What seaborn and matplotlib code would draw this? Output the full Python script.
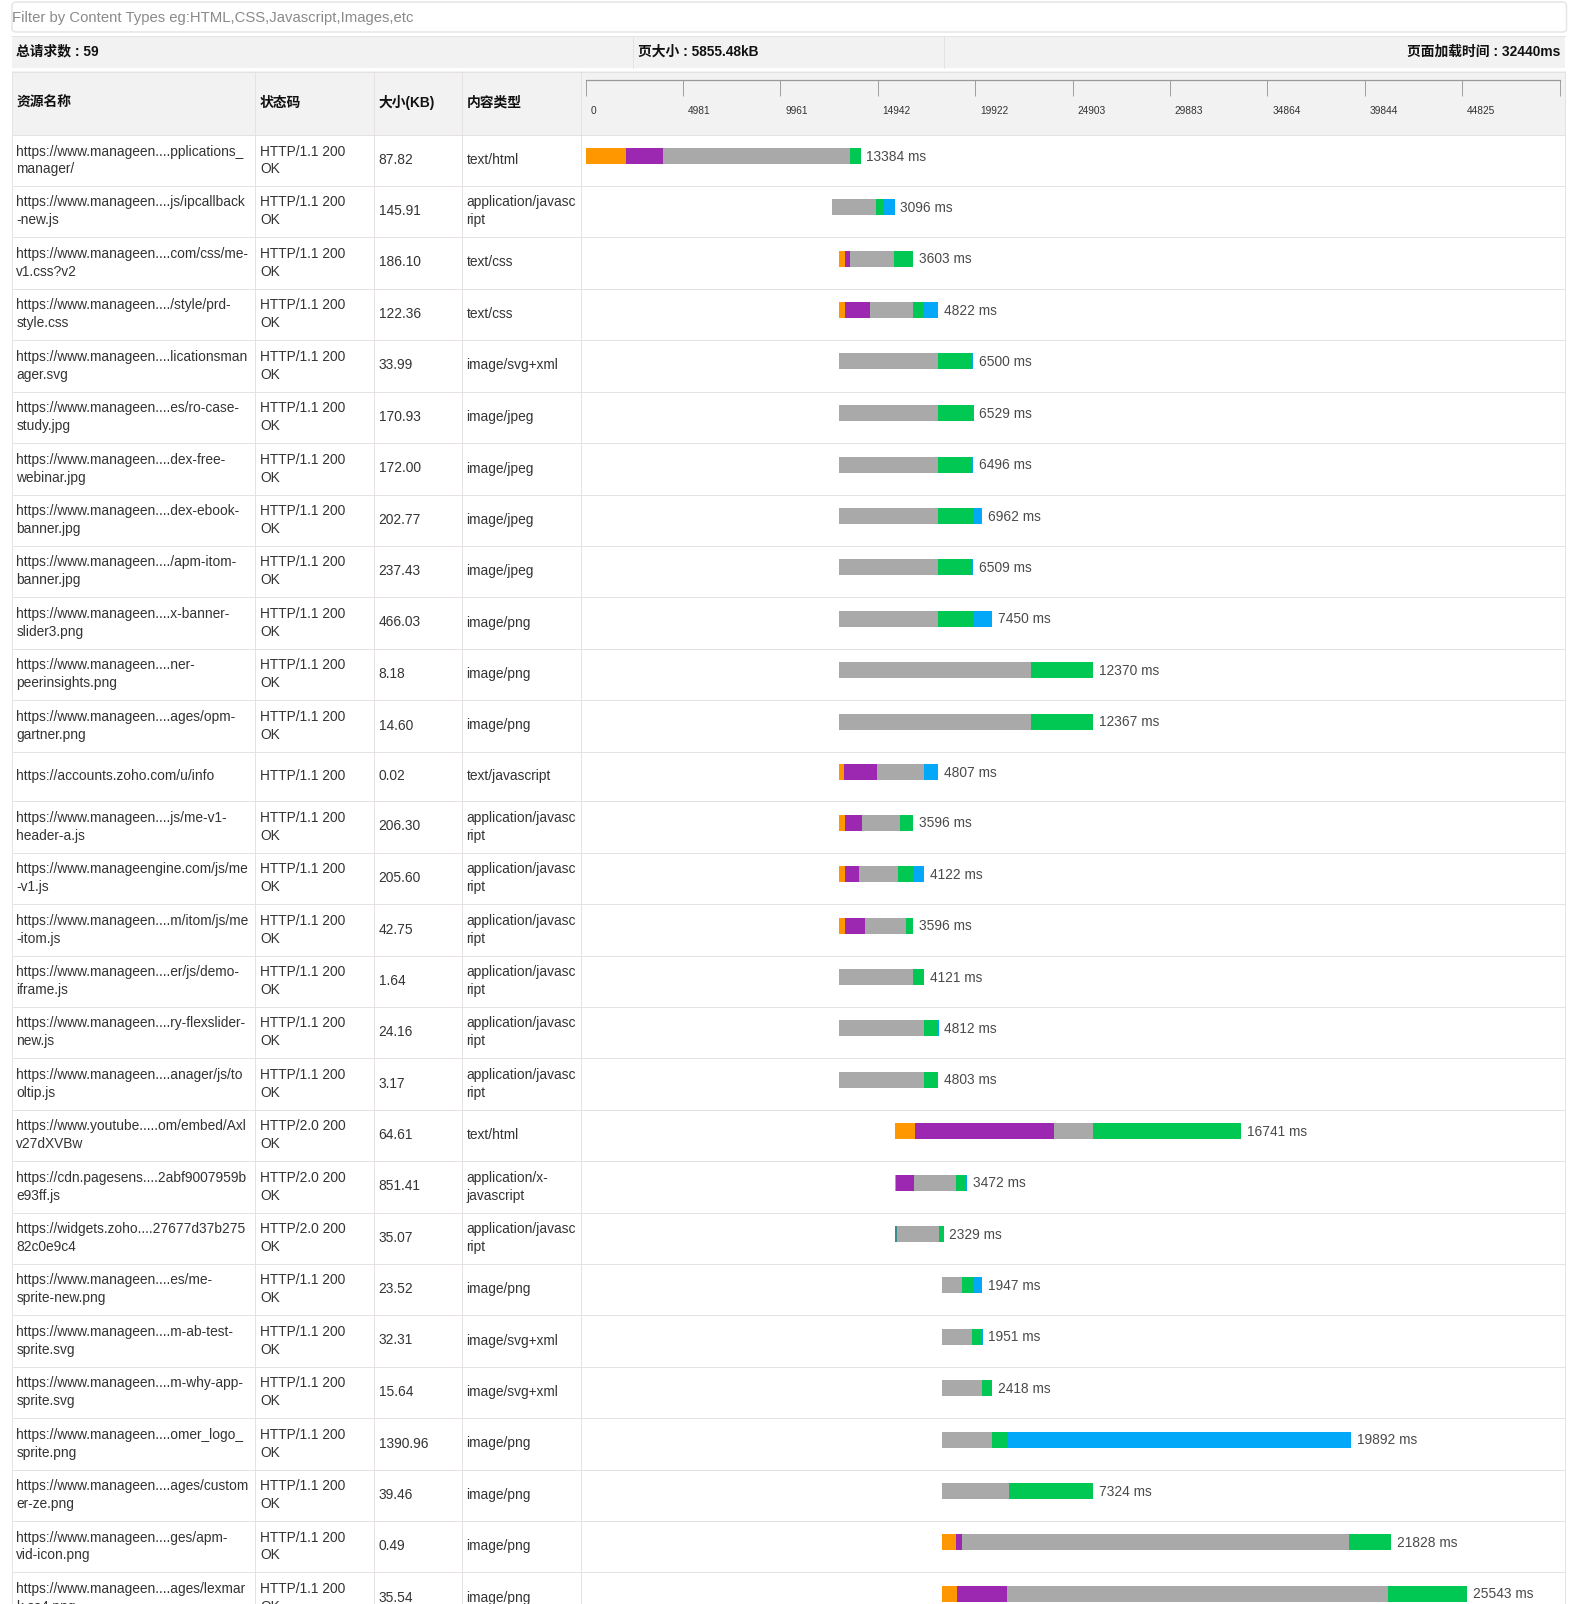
import numpy as np
import pandas as pd
import matplotlib
matplotlib.use("Agg")
import matplotlib.pyplot as plt
from matplotlib.patches import Rectangle, FancyBboxPatch
import seaborn as sns

# ---------- data ----------
U = "https://www.manageen...."
names = [U + "pplications_\nmanager/", U + "js/ipcallback\n-new.js", U + "com/css/me-\nv1.css?v2",
         U + "/style/prd-\nstyle.css", U + "licationsman\nager.svg", U + "es/ro-case-\nstudy.jpg",
         U + "dex-free-\nwebinar.jpg", U + "dex-ebook-\nbanner.jpg", U + "/apm-itom-\nbanner.jpg",
         U + "x-banner-\nslider3.png", U + "ner-\npeerinsights.png", U + "ages/opm-\ngartner.png",
         "https://accounts.zoho.com/u/info", U + "js/me-v1-\nheader-a.js",
         "https://www.manageengine.com/js/me\n-v1.js", U + "m/itom/js/me\n-itom.js",
         U + "er/js/demo-\niframe.js", U + "ry-flexslider-\nnew.js", U + "anager/js/to\noltip.js",
         "https://www.youtube.....om/embed/Axl\nv27dXVBw", "https://cdn.pagesens....2abf9007959b\ne93ff.js",
         "https://widgets.zoho....27677d37b275\n82c0e9c4", U + "es/me-\nsprite-new.png",
         U + "m-ab-test-\nsprite.svg", U + "m-why-app-\nsprite.svg", U + "omer_logo_\nsprite.png",
         U + "ages/custom\ner-ze.png", U + "ges/apm-\nvid-icon.png", U + "ages/lexmar\nk-ss4.png"]
H1 = "HTTP/1.1 200\nOK"
H2 = "HTTP/2.0 200\nOK"
statuses = [H1] * 12 + ["HTTP/1.1 200"] + [H1] * 6 + [H2] * 3 + [H1] * 7
sizes = ["87.82", "145.91", "186.10", "122.36", "33.99", "170.93", "172.00", "202.77", "237.43", "466.03",
         "8.18", "14.60", "0.02", "206.30", "205.60", "42.75", "1.64", "24.16", "3.17", "64.61", "851.41",
         "35.07", "23.52", "32.31", "15.64", "1390.96", "39.46", "0.49", "35.54"]
AJ = "application/javasc\nript"
types = ["text/html", AJ, "text/css", "text/css", "image/svg+xml", "image/jpeg", "image/jpeg", "image/jpeg",
         "image/jpeg", "image/png", "image/png", "image/png", "text/javascript", AJ, AJ, AJ, AJ, AJ, AJ,
         "text/html", "application/x-\njavascript", AJ, "image/png", "image/svg+xml", "image/svg+xml",
         "image/png", "image/png", "image/png", "image/png"]
times_label = [13384, 3096, 3603, 4822, 6500, 6529, 6496, 6962, 6509, 7450, 12370, 12367, 4807, 3596, 4122, 3596,
               4121, 4812, 4803, 16741, 3472, 2329, 1947, 1951, 2418, 19892, 7324, 21828, 25543]
start_ms = [0, 11971] + [12360] * 17 + [15085] * 3 + [17372] * 7
orange_ms = [1995, 0, 292, 292, 0, 0, 0, 0, 0, 0, 0, 0, 195, 292, 292, 292, 0, 0, 0, 925, 30, 0, 0, 0, 0, 0, 0, 681, 730]
purple_ms = [1752, 0, 243, 1168, 0, 0, 0, 0, 0, 0, 0, 0, 1654, 827, 681, 925, 0, 0, 0, 6764, 876, 0, 0, 0, 0, 0, 0, 292, 2433]
teal_ms = [0] * 21 + [49] + [0] * 7
gray_ms = [9100, 2141, 2141, 2141, 4817, 4817, 4817, 4817, 4817, 4817, 9343, 9343, 2287, 1849, 1898, 1995, 3601, 4136,
           4136, 1898, 2044, 2044, 973, 1460, 1946, 2418, 3212, 18831, 18539]
green_ms = [535, 341, 925, 535, 1654, 1670, 1654, 1703, 1654, 1703, 3017, 3017, 0, 633, 730, 389, 535, 660, 681, 7202,
            487, 243, 535, 450, 487, 779, 4112, 2044, 3844]
blue_ms = [0, 584, 0, 681, 49, 49, 49, 438, 49, 925, 0, 0, 681, 0, 535, 0, 0, 30, 0, 20, 49, 0, 438, 40, 0, 16691, 0, 0, 0]
ruler_ticks = [0, 4981, 9961, 14942, 19922, 24903, 29883, 34864, 39844, 44825, 49805]
headers = ["资源名称", "状态码", "大小(KB)", "内容类型"]

phases = [("orange", orange_ms, "#FF9800"), ("purple", purple_ms, "#9C27B0"), ("teal", teal_ms, "#3C8C8C"),
          ("gray", gray_ms, "#A9A9A9"), ("green", green_ms, "#00C853"), ("blue", blue_ms, "#03A9F8")]

# ---------- layout (pixels) ----------
W, H = 1581, 1604
row_lines = np.array([134.7, 185.3, 236.3, 288.3, 339.3, 391, 442.3, 494.3, 545.3, 596.3, 648.3, 699.3, 751.3, 800.3,
                      852.3, 903.3, 955.3, 1006.3, 1057.3, 1109.3, 1160.3, 1212.3, 1263.3, 1314.3, 1366.3, 1417.3,
                      1469.3, 1520.3, 1571.7, 1623])
row_mid = (row_lines[:-1] + row_lines[1:]) / 2
bar_centre = row_mid - 3.7
col_lines = [11.5, 254.5, 373.5, 461.5, 580.5, 1564.5]
col_text_x = [16.3, 260, 378.6, 466.6]
X0 = 585.5
PX_PER_MS = 0.02055
LINE = "#E6E1E3"
BG = "#F2F2F2"

sns.set_theme(style="white")
plt.rcParams["font.family"] = ["Liberation Sans", "Noto Sans CJK SC", "DejaVu Sans"]
FS = 9.95

fig = plt.figure(figsize=(W / 100, H / 100), dpi=100, facecolor="white")

# ---------- table layer ----------
tb = fig.add_axes([0, 0, 1, 1])
tb.set_xlim(0, W)
tb.set_ylim(H, 0)
tb.axis("off")

tb.add_patch(FancyBboxPatch((12, 2), 1554.5, 30, boxstyle="round,pad=0,rounding_size=4",
                            fc="white", ec="#E6E6E6", lw=1.1))
tb.text(12.2, 22, "Filter by Content Types eg:HTML,CSS,Javascript,Images,etc", fontsize=10.7, color="#8A8A8A", va="baseline")

tb.add_patch(Rectangle((11.5, 35.5), 1553, 32.5, fc=BG, ec="none"))
tb.plot([11.5, 1564.5], [35.5, 35.5], color=LINE, lw=0.72)
for sx in (632.5, 943.5):
    tb.plot([sx, sx], [35.5, 68], color=LINE, lw=0.72)
tb.text(16.3, 55.8, "总请求数 : 59", fontsize=FS, fontweight="bold", color="#111111", va="baseline")
tb.text(637.8, 55.8, "页大小 : 5855.48kB", fontsize=FS, fontweight="bold", color="#111111", va="baseline")
tb.text(1560.5, 55.8, "页面加载时间 : 32440ms", fontsize=FS, fontweight="bold", color="#111111", va="baseline", ha="right")

tb.add_patch(Rectangle((11.5, 71), 1553, 63.7, fc=BG, ec="none"))
tb.plot([11.5, 1564.5], [71.5, 71.5], color=LINE, lw=0.72)
for hx, label in zip(col_text_x, headers):
    tb.text(hx, 107, label, fontsize=FS, fontweight="bold", color="#111111", va="baseline")

for yl in row_lines[:-1]:
    yy = np.floor(yl) + 0.5
    tb.plot([11.5, 1564.5], [yy, yy], color=LINE, lw=0.72, solid_capstyle="butt")
for xl in col_lines:
    tb.plot([xl, xl], [71, H], color=LINE, lw=0.72, solid_capstyle="butt")


def cell(x, mid, s):
    lines = s.split("\n")
    if len(lines) == 1:
        tb.text(x, mid + 4.2, s, fontsize=FS, color="#333333", va="baseline", clip_on=True)
    else:
        tb.text(x, mid - 4.4, lines[0], fontsize=FS, color="#333333", va="baseline", clip_on=True)
        tb.text(x, mid + 13.4, lines[1], fontsize=FS, color="#333333", va="baseline", clip_on=True)


for i in range(len(names)):
    for x, col in zip(col_text_x, (names, statuses, sizes, types)):
        cell(x, row_mid[i], col[i])

# ---------- waterfall bars ----------
ax = fig.add_axes([0, 0, 1, 1], facecolor="none")
left = np.array(start_ms, dtype=float)
bar_width = 16.0 / np.diff(bar_centre).min()
for pname, values, colour in phases:
    frame = pd.DataFrame({"y": bar_centre, "ms": values})
    sns.barplot(data=frame, x="ms", y="y", orient="y", native_scale=True, color=colour, saturation=1,
                width=bar_width, errorbar=None, left=left, linewidth=0, edgecolor="none",
                antialiased=False, ax=ax)
    left = left + np.array(values, dtype=float)
ax.set_xlim(-X0 / PX_PER_MS, (W - X0) / PX_PER_MS)
ax.set_ylim(H, 0)
ax.axis("off")
for end, yc, t in zip(left, bar_centre, times_label):
    ax.annotate(f"{t} ms", xy=(end, yc), xycoords="data", xytext=(5.6, -4.8), textcoords="offset pixels",
                fontsize=FS, color="#4A4A4A", va="baseline", ha="left", annotation_clip=False)

# ---------- ruler ----------
R0, R1, RT, RB = 585.5, 1559.5, 79.5, 95.5
rx = fig.add_axes([R0 / W, 1 - RB / H, (R1 - R0) / W, (RB - RT) / H], facecolor="none")
rx.set_xlim(0, ruler_ticks[-1])
rx.set_ylim(0, 1)
rx.set_yticks([])
rx.set_xticks(ruler_ticks)
rx.set_xticklabels([])
rx.tick_params(axis="x", direction="in", length=11.5, width=0.72, color="#A0A0A0",
               top=True, bottom=False, labeltop=False, labelbottom=False)
for side in ("left", "right", "bottom"):
    rx.spines[side].set_visible(False)
rx.spines["top"].set_color("#999999")
rx.spines["top"].set_linewidth(0.9)
for t in ruler_ticks[:-1]:
    rx.annotate(str(t), xy=(t, 0), xycoords="data", xytext=(5, -18.5), textcoords="offset pixels",
                fontsize=7.3, color="#333333", va="baseline", ha="left", annotation_clip=False)

fig.savefig("out.png", dpi=100, facecolor="white")
